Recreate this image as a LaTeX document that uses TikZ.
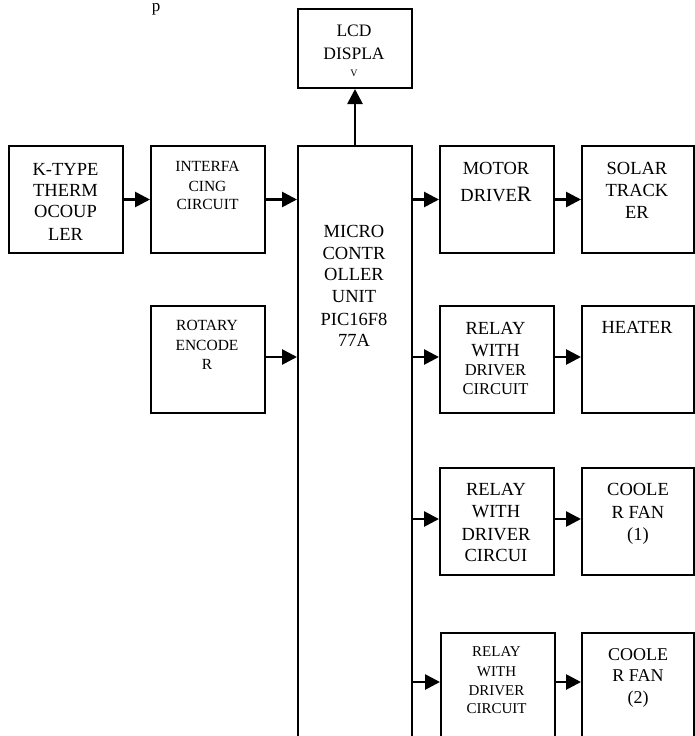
\documentclass[tikz,border=0pt]{standalone}
\usepackage{fontspec}
\setmainfont{Liberation Serif}
\usetikzlibrary{arrows.meta}
\newcommand\mytext[5]{\node[txt,font=\fontsize{#4}{#4}\selectfont] (#1) at (#2,#3) {#5};}
\begin{document}
\begin{tikzpicture}[x=1pt,y=-1pt,
  blk/.style={draw,line width=2pt,inner sep=0pt,minimum width=114pt,anchor=north west},
  txt/.style={anchor=base,inner sep=0pt},
  arr/.style={line width=2.7pt,-{Triangle[length=15pt,width=15pt]}}]
\useasboundingbox (0,0) rectangle (694,736);
\fill[white] (0,0) rectangle (694,736);
% fragment of text above the figure
\mytext{tfrag}{156}{12}{17}{p}
% boxes
\node[blk,minimum height=79pt] (lcd) at (297,8) {};
\node[blk,minimum height=107pt] (kt) at (8,145) {};
\node[blk,minimum height=107pt] (ifc) at (150,145) {};
\node[blk,minimum height=600pt] (mcu) at (297,145) {};
\node[blk,minimum height=107pt] (mot) at (439,145) {};
\node[blk,minimum height=107pt,minimum width=112pt] (sol) at (581,145) {};
\node[blk,minimum height=107pt] (rot) at (150,305) {};
\node[blk,minimum height=107pt] (r1) at (439,305) {};
\node[blk,minimum height=107pt,minimum width=112pt] (heat) at (581,305) {};
\node[blk,minimum height=107pt] (r2) at (439,467) {};
\node[blk,minimum height=107pt,minimum width=112pt] (c1) at (581,467) {};
\node[blk,minimum height=115pt] (r3) at (440,632) {};
\node[blk,minimum height=115pt,minimum width=112pt] (c2) at (581,632) {};
% texts
\mytext{tlcda}{354}{36}{17.5}{LCD}
\mytext{tlcdb}{354}{59.3}{17.5}{DISPLA}
\mytext{tlcdc}{354}{76}{10}{V}
\mytext{tkta}{65.5}{175}{18.5}{K-TYPE}
\mytext{tktb}{65.5}{196.5}{18.5}{THERM}
\mytext{tktc}{65.5}{217.5}{18.5}{OCOUP}
\mytext{tktd}{65.5}{240}{18.5}{LER}
\mytext{tifa}{207.5}{171.7}{15.5}{INTERFA}
\mytext{tifb}{207.5}{191}{15.5}{CING}
\mytext{tifc}{207.5}{209.3}{15.5}{CIRCUIT}
\mytext{tmca}{354}{237.3}{18.5}{MICRO}
\mytext{tmcb}{354}{259.3}{18.5}{CONTR}
\mytext{tmcc}{354}{280.7}{18.5}{OLLER}
\mytext{tmcd}{354}{302.7}{18.5}{UNIT}
\mytext{tmce}{354}{325}{18.5}{PIC16F8}
\mytext{tmcf}{354}{346.7}{18.5}{77A}
\mytext{tmoa}{496}{174}{18.5}{MOTOR}
\mytext{tmob}{496}{201}{18.5}{DRIVE{\fontsize{22}{22}\selectfont R}}
\mytext{tsoa}{637}{174.3}{18.5}{SOLAR}
\mytext{tsob}{637}{196.7}{18.5}{TRACK}
\mytext{tsoc}{637}{218.3}{18.5}{ER}
\mytext{troa}{207}{330.7}{15.5}{ROTARY}
\mytext{trob}{207}{350.7}{15.5}{ENCODE}
\mytext{troc}{207}{369.3}{15.5}{R}
\mytext{traa}{495.5}{334}{18.5}{RELAY}
\mytext{trab}{495.5}{356}{18.5}{WITH}
\mytext{trac}{495.5}{375}{16.5}{DRIVER}
\mytext{trad}{495.5}{394}{16.5}{CIRCUIT}
\mytext{thea}{637}{333.3}{18.5}{HEATER}
\mytext{trba}{496}{495.7}{18.5}{RELAY}
\mytext{trbb}{496}{517.7}{18.5}{WITH}
\mytext{trbc}{496}{540}{18.5}{DRIVER}
\mytext{trbd}{496}{561.7}{18.5}{CIRCUI}
\mytext{tcaa}{638}{495.7}{18.5}{COOLE}
\mytext{tcab}{638}{518.3}{18.5}{R FAN}
\mytext{tcac}{638}{540.5}{18.5}{(1)}
\mytext{trca}{496.5}{656.7}{15}{RELAY}
\mytext{trcb}{496.5}{676}{15}{WITH}
\mytext{trcc}{496.5}{695}{15}{DRIVER}
\mytext{trcd}{496.5}{713.3}{15}{CIRCUIT}
\mytext{tcba}{638}{660}{18}{COOLE}
\mytext{tcbb}{638}{681.7}{18}{R FAN}
\mytext{tcbc}{638}{703.5}{18}{(2)}
% connectors
\draw[arr] (mcu.north) -- (lcd.south);
\draw[arr] (kt.east) -- (ifc.west);
\draw[arr] (ifc.east) -- (ifc.east -| mcu.west);
\draw[arr] ([yshift=2.5pt]rot.east) -- ([yshift=2.5pt]rot.east -| mcu.west);
\draw[arr] (mcu.east |- mot.west) -- (mot.west);
\draw[arr] (mot.east) -- (sol.west);
\draw[arr] ([yshift=2.5pt]mcu.east |- r1.west) -- ([yshift=2.5pt]r1.west);
\draw[arr] ([yshift=2.5pt]r1.east) -- ([yshift=2.5pt]heat.west);
\draw[arr] ([yshift=2.5pt]mcu.east |- r2.west) -- ([yshift=2.5pt]r2.west);
\draw[arr] ([yshift=2.5pt]r2.east) -- ([yshift=2.5pt]c1.west);
\draw[arr] ([yshift=8.5pt]mcu.east |- r3.west) -- ([yshift=8.5pt]r3.west);
\draw[arr] ([yshift=8.5pt]r3.east) -- ([yshift=8.5pt]c2.west);
\end{tikzpicture}
\end{document}
